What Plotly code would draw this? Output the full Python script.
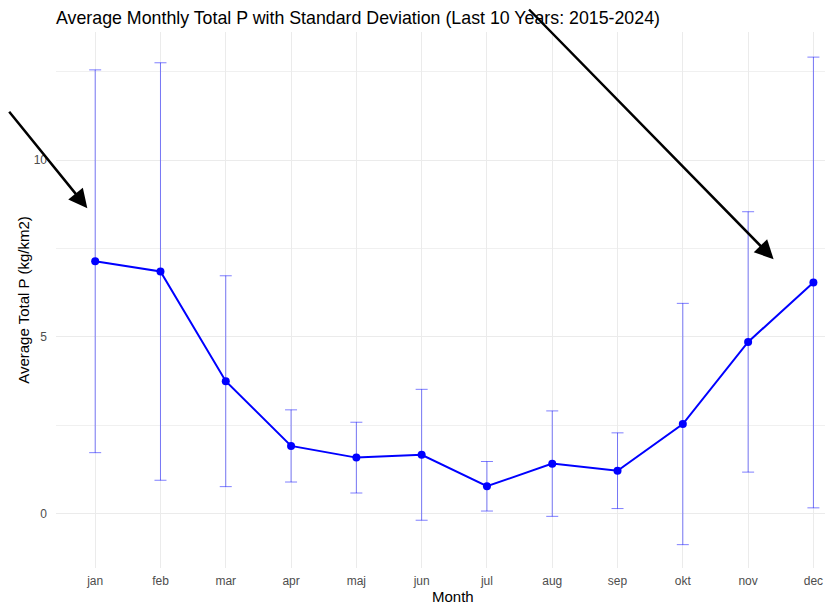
import plotly.graph_objects as go

months = ["jan", "feb", "mar", "apr", "maj", "jun", "jul", "aug", "sep", "okt", "nov", "dec"]
mean_p = [7.14, 6.85, 3.75, 1.92, 1.59, 1.67, 0.78, 1.42, 1.22, 2.54, 4.86, 6.54]
sd_p = [5.41, 5.90, 2.98, 1.02, 1.00, 1.85, 0.70, 1.49, 1.07, 3.41, 3.68, 6.37]
y_ticks = [0, 5, 10]

fig = go.Figure()
fig.add_trace(go.Scatter(
    x=months, y=mean_p, mode="lines+markers",
    line=dict(color="#0000ff", width=2),
    marker=dict(color="#0000ff", size=8),
    error_y=dict(type="data", array=sd_p, visible=True,
                 color="rgba(0,0,255,0.5)", thickness=1, width=6),
    showlegend=False,
))

fig.add_annotation(x=-0.12, y=8.64, xref="x", yref="y", text="", showarrow=True,
                   ax=-97, ay=-98, arrowhead=2, arrowsize=1.5, arrowwidth=2.5,
                   arrowcolor="black")
fig.add_annotation(x=10.39, y=7.2, xref="x", yref="y", text="", showarrow=True,
                   ax=-246, ay=-270, arrowhead=2, arrowsize=1.5, arrowwidth=2.5,
                   arrowcolor="black")

# x-axis title (panel in the original extends slightly past the right edge)
fig.add_annotation(x=(445 - 48) / 777, y=-0.054, xref="paper", yref="paper",
                   text="Month", showarrow=False, xanchor="center", yanchor="middle",
                   font=dict(size=15, color="black"))

fig.update_layout(
    width=825, height=598,
    margin=dict(l=48, r=0, t=24, b=38),
    paper_bgcolor="white", plot_bgcolor="white",
    font=dict(family="Liberation Sans, Arial, sans-serif"),
    title=dict(text="Average Monthly Total P with Standard Deviation (Last 10 Years: 2015-2024)",
               x=0, xref="paper", xanchor="left", y=1 - 9.5 / 598, yanchor="middle",
               font=dict(size=17.8, color="black")),
)
fig.update_xaxes(
    type="category", range=[-0.6, 11.3], automargin=False,
    showgrid=True, gridcolor="#ebebeb", gridwidth=1, zeroline=False,
    showline=False, ticks="", tickfont=dict(size=12, color="#4d4d4d"),
    ticklabelstandoff=4,
)
fig.update_yaxes(
    range=[-1.53, 13.62], tickvals=y_ticks, automargin=False,
    showgrid=True, gridcolor="#ebebeb", gridwidth=1, zeroline=False,
    showline=False, ticks="", tickfont=dict(size=12, color="#4d4d4d"),
    ticklabelstandoff=8,
    minor=dict(tick0=0, dtick=2.5, showgrid=True, gridcolor="#f0f0f0", gridwidth=0.6),
    title=dict(text="Average Total P (kg/km2)", font=dict(size=15, color="black"), standoff=0),
)

fig.write_html("out.html")
